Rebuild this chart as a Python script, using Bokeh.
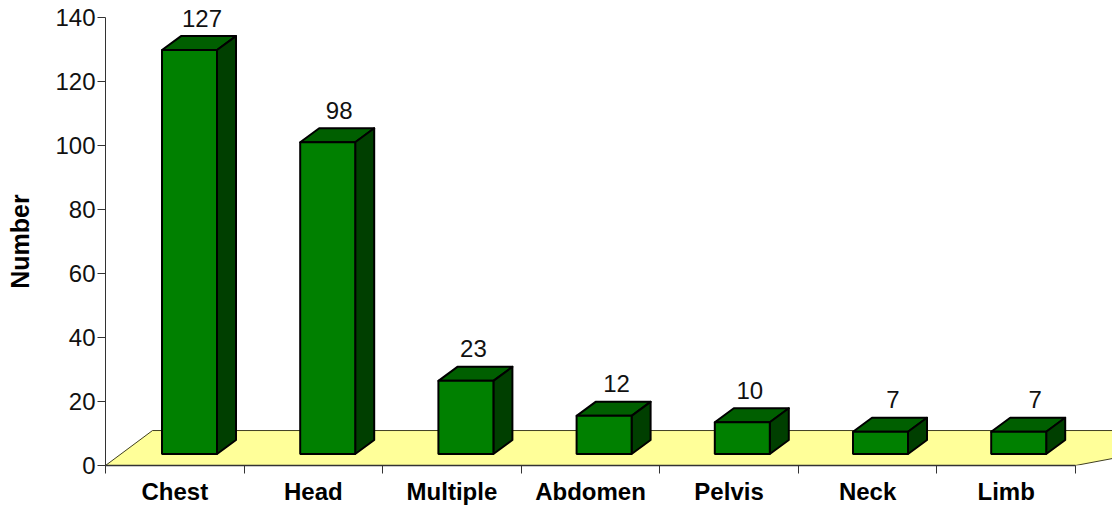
from bokeh.plotting import figure
from bokeh.models import FixedTicker, Range1d
from bokeh.core.properties import value
from bokeh.embed import file_html
from bokeh.resources import INLINE

categories = ["Chest", "Head", "Multiple", "Abdomen", "Pelvis", "Neck", "Limb"]
counts = [127, 98, 23, 12, 10, 7, 7]
y_ticks = [0, 20, 40, 60, 80, 100, 120, 140]

FONT = "Liberation Sans"
UX, UY = 138.57, 3.204      # pixels per category / per count
DX, DY = 19 / UX, 14 / UY   # bar depth
FX, FY = 47 / UX, 35 / UY   # floor depth
STEP = 138.2 / UX
BAR_L, BAR_W = 56.5 / UX, 55 / UX
BASE = 11.5 / UY
LABEL_NUDGE = [1, 0, -4, 1, -4, 1, 5]   # small px shifts of the value labels

p = figure(width=1112, height=507, output_backend="svg", toolbar_location=None,
           x_range=Range1d(0, 1007 / UX), y_range=Range1d(0, 140),
           min_border_left=105, min_border_right=0, min_border_top=17, min_border_bottom=41,
           background_fill_color="white", outline_line_color=None)
p.grid.visible = False

n = len(categories)
p.patch([0, FX, n + FX + 1, n], [0, FY, FY, 0], fill_color="#FFFF99",
        line_color="#403F20", line_width=1)

lefts = [i * STEP + BAR_L for i in range(n)]
rights = [x + BAR_W for x in lefts]
tops = [v * 0.994 + BASE for v in counts]
bases = [BASE] * n

p.patches([[l, l + DX, r + DX, r] for l, r in zip(lefts, rights)],
          [[t, t + DY, t + DY, t] for t in tops],
          fill_color="#005F00", line_color="black", line_width=2, line_join="round")
p.patches([[r, r + DX, r + DX, r] for r in rights],
          [[b, b + DY, t + DY, t] for b, t in zip(bases, tops)],
          fill_color="#003F00", line_color="black", line_width=2, line_join="round")
p.quad(left=lefts, right=rights, bottom=bases, top=tops,
       fill_color="#008000", line_color="black", line_width=2)

label_x = [(l + r + DX) / 2 + (2 + d) / UX for l, r, d in zip(lefts, rights, LABEL_NUDGE)]
p.text(label_x, [t + DY for t in tops], text=[str(v) for v in counts],
       text_font=value(FONT), text_font_size="24px", text_color="#111111",
       text_align="center", text_baseline="middle", y_offset=-18, level="overlay")

xa = p.xaxis[0]
xa.ticker = FixedTicker(ticks=[i + 0.5 for i in range(n)], minor_ticks=list(range(n + 1)))
xa.major_label_overrides = {i + 0.5: c for i, c in enumerate(categories)}
xa.bounds = (0, n)
xa.major_tick_out = 0
xa.major_tick_in = 0
xa.minor_tick_out = 8
xa.minor_tick_in = 0
xa.major_label_text_font = FONT
xa.major_label_text_font_style = "bold"
xa.major_label_text_font_size = "24px"
xa.major_label_text_color = "black"
xa.major_label_standoff = 4
xa.axis_line_color = "#333333"
xa.minor_tick_line_color = "#333333"
xa.axis_line_width = 1.5

ya = p.yaxis[0]
ya.ticker = FixedTicker(ticks=y_ticks)
ya.major_tick_out = 8
ya.major_tick_in = 0
ya.minor_tick_out = 0
ya.minor_tick_in = 0
ya.major_label_text_font = FONT
ya.major_label_text_font_size = "24px"
ya.major_label_text_color = "#111111"
ya.major_label_standoff = 2
ya.axis_line_color = "#333333"
ya.major_tick_line_color = "#333333"
ya.axis_label = "Number"
ya.axis_label_text_font = FONT
ya.axis_label_text_font_style = "bold"
ya.axis_label_text_font_size = "25px"
ya.axis_label_text_color = "black"
ya.axis_label_standoff = 18

open("out.html", "w").write(file_html(p, INLINE))
